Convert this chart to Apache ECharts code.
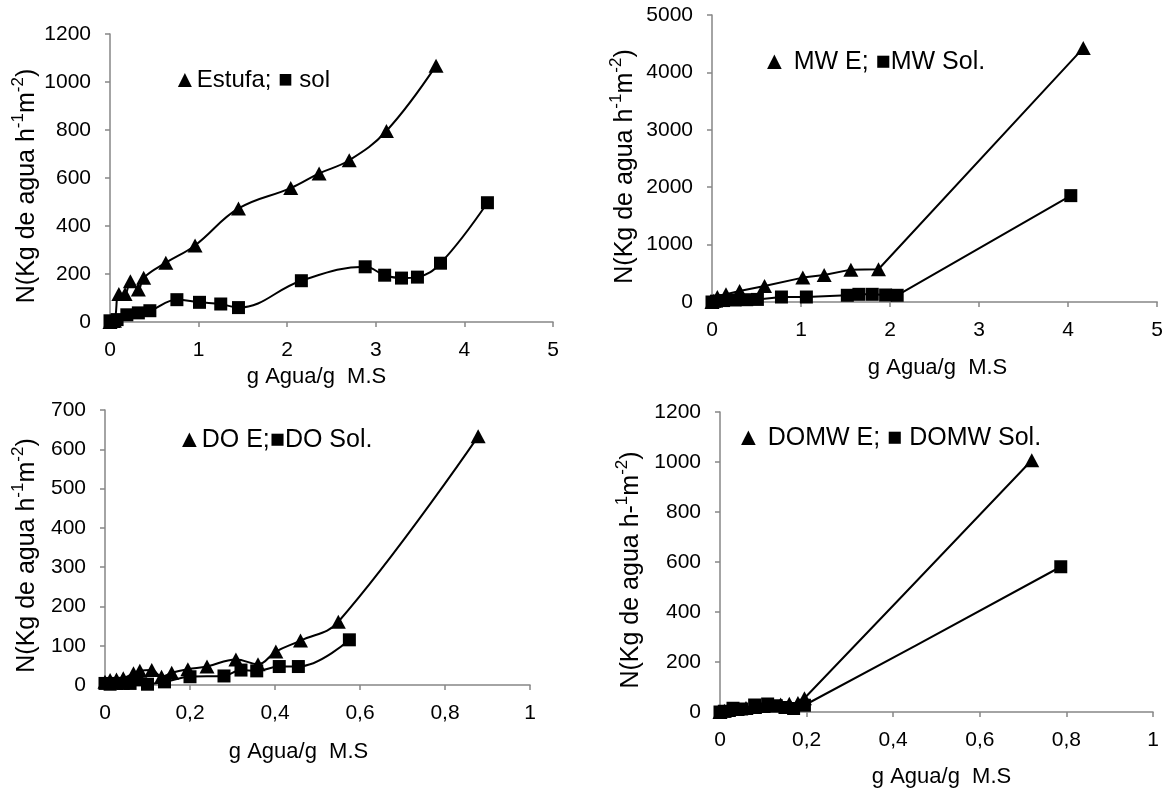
<!DOCTYPE html>
<html><head><meta charset="utf-8">
<script src="https://cdn.jsdelivr.net/npm/echarts@6/dist/echarts.min.js"></script>
<style>html,body{margin:0;padding:0;background:#fff}#c{width:1166px;height:791px}</style>
</head><body><div id="c"></div>
<script>
// Panel 1: Estufa / sol
const estufaX = [0, 0.05, 0.10, 0.17, 0.23, 0.32, 0.38, 0.63, 0.96, 1.45, 2.04, 2.36, 2.70, 3.12, 3.68];
const estufaY = [0, 5, 117, 117, 170, 135, 184, 247, 319, 473, 558, 619, 674, 796, 1068];
const solX = [0, 0.04, 0.08, 0.19, 0.32, 0.45, 0.755, 1.01, 1.25, 1.45, 2.16, 2.88, 3.10, 3.29, 3.47, 3.73, 4.26];
const solY = [5, 2, 10, 30, 38, 47, 93, 82, 75, 60, 172, 230, 195, 183, 187, 245, 497];
// Panel 2: MW E / MW Sol.
const mwEX = [0, 0.02, 0.06, 0.157, 0.31, 0.59, 1.02, 1.26, 1.56, 1.87, 4.17];
const mwEY = [0, 20, 87, 134, 192, 279, 425, 470, 564, 570, 4423];
const mwSX = [0, 0.05, 0.13, 0.26, 0.39, 0.51, 0.78, 1.06, 1.52, 1.65, 1.80, 1.95, 2.08, 4.03];
const mwSY = [0, 15, 25, 35, 40, 45, 87, 87, 117, 134, 134, 122, 117, 1853];
// Panel 3: DO E / DO Sol.
const doEX = [0, 0.012, 0.027, 0.043, 0.067, 0.082, 0.11, 0.133, 0.157, 0.195, 0.24, 0.308, 0.36, 0.402, 0.46, 0.549, 0.878];
const doEY = [8, 13, 14, 17, 30, 36, 38, 21, 31, 40, 47, 65, 53, 85, 113, 161, 633];
const doSX = [0, 0.012, 0.027, 0.043, 0.059, 0.075, 0.10, 0.14, 0.20, 0.28, 0.32, 0.357, 0.41, 0.455, 0.575];
const doSY = [4, 2, 4, 4, 4, 13, 2, 8, 21, 23, 38, 36, 47, 47, 115];
// Panel 4: DOMW E / DOMW Sol.
const domwEX = [0, 0.01, 0.02, 0.04, 0.06, 0.08, 0.10, 0.12, 0.14, 0.16, 0.18, 0.195, 0.72];
const domwEY = [0, 5, 8, 12, 16, 20, 24, 26, 30, 33, 36, 55, 1007];
const domwSX = [0, 0.01, 0.03, 0.05, 0.08, 0.11, 0.13, 0.15, 0.17, 0.195, 0.787];
const domwSY = [0, 3, 15, 12, 28, 32, 25, 18, 14, 27, 581];

const legendTexts = ['\u25B2Estufa; \u25A0 sol', '\u25B2 MW E; \u25A0MW Sol.', '\u25B2DO E;\u25A0DO Sol.', '\u25B2 DOMW E; \u25A0 DOMW Sol.'];
const yNameA = '{a|N(Kg de agua h}{s|-1}{a|m}{s|-2}{a|)}';
const yNameB = '{a|N(Kg de agua h-}{s|1}{a|m}{s|-2}{a|)}';
const yNames = [yNameA, yNameA, yNameA, yNameB];
const xName = 'g Agua/g  M.S';

const pair = (xs, ys) => xs.map((x, i) => [x, ys[i]]);
const FONT = '"Liberation Sans", Arial, sans-serif';
const gray = '#868686';

const grids = [
  {left: 110, top: 34, width: 443, height: 288},
  {left: 712, top: 15, width: 446, height: 287},
  {left: 105, top: 410, width: 425, height: 275},
  {left: 720, top: 412, width: 433, height: 300}
];
const xCfg = [
  {max: 5, interval: 1, gap: 44, pad: [0, 30, 0, 0]},
  {max: 5, interval: 1, gap: 55, pad: [0, 0, 0, 6]},
  {max: 1, interval: 0.2, gap: 56, pad: [0, 38, 0, 0]},
  {max: 1, interval: 0.2, gap: 54, pad: [0, 0, 0, 10]}
];
const yCfg = [
  {max: 1200, interval: 200, gap: 70},
  {max: 5000, interval: 1000, gap: 74},
  {max: 700, interval: 100, gap: 65},
  {max: 1200, interval: 200, gap: 76}
];
const smoothBy = [0.4, false, 0.4, 0.3];
const fmtX = v => String(+(+v).toFixed(1)).replace('.', ',');
const fmtY = v => String(Math.round(v));

const axisCommon = {
  axisLine: {lineStyle: {color: gray, width: 1.5}},
  axisTick: {show: true, inside: false, length: 5, lineStyle: {color: gray, width: 1.5}},
  splitLine: {show: false},
  axisLabel: {color: '#000', fontSize: 21, fontFamily: FONT},
  nameTextStyle: {color: '#000', fontSize: 22, fontFamily: FONT}
};

const xAxes = xCfg.map((c, i) => Object.assign({}, axisCommon, {
  type: 'value', gridIndex: i, min: 0, max: c.max, interval: c.interval,
  name: xName, nameLocation: 'middle', nameGap: c.gap,
  axisLabel: Object.assign({}, axisCommon.axisLabel, {formatter: fmtX, margin: 18}),
  nameTextStyle: Object.assign({}, axisCommon.nameTextStyle, {padding: c.pad})
}));
const yAxes = yCfg.map((c, i) => Object.assign({}, axisCommon, {
  type: 'value', gridIndex: i, min: 0, max: c.max, interval: c.interval,
  name: yNames[i], nameLocation: 'middle', nameGap: c.gap, nameRotate: 90,
  axisLabel: Object.assign({}, axisCommon.axisLabel, {formatter: fmtY, margin: 19}),
  nameTextStyle: {
    color: '#000', fontFamily: FONT, fontSize: 25, padding: [0, 16, 0, 0],
    rich: {
      a: {color: '#000', fontFamily: FONT, fontSize: 25, lineHeight: 30, verticalAlign: 'bottom'},
      s: {color: '#000', fontFamily: FONT, fontSize: 17, lineHeight: 30, verticalAlign: 'top'}
    }
  }
}));

function mkSeries(name, idx, xs, ys, sym) {
  return {
    name, type: 'line', xAxisIndex: idx, yAxisIndex: idx,
    data: pair(xs, ys), smooth: smoothBy[idx],
    symbol: sym === 'tri' ? 'triangle' : 'rect',
    symbolSize: sym === 'tri' ? [15, 14] : 13,
    itemStyle: {color: '#000'},
    lineStyle: {color: '#000', width: 2},
    z: sym === 'tri' ? 3 : 2
  };
}

const series = [
  mkSeries('Estufa', 0, estufaX, estufaY, 'tri'),
  mkSeries('sol', 0, solX, solY, 'sq'),
  mkSeries('MW E', 1, mwEX, mwEY, 'tri'),
  mkSeries('MW Sol.', 1, mwSX, mwSY, 'sq'),
  mkSeries('DO E', 2, doEX, doEY, 'tri'),
  mkSeries('DO Sol.', 2, doSX, doSY, 'sq'),
  mkSeries('DOMW E', 3, domwEX, domwEY, 'tri'),
  mkSeries('DOMW Sol.', 3, domwSX, domwSY, 'sq')
];

const legendPos = [[173, 80], [762, 62], [177, 440], [736, 438]];
const legendSize = [24, 25, 25, 25];
const graphic = legendTexts.map((t, i) => ({
  type: 'text', x: legendPos[i][0], y: legendPos[i][1],
  style: {text: t, fill: '#000', font: legendSize[i] + 'px ' + FONT, verticalAlign: 'middle'}
}));

const chart = echarts.init(document.getElementById('c'), null, {renderer: 'canvas'});
chart.setOption({
  animation: false,
  backgroundColor: '#fff',
  grid: grids,
  xAxis: xAxes,
  yAxis: yAxes,
  series,
  graphic
});
</script>
</body></html>
